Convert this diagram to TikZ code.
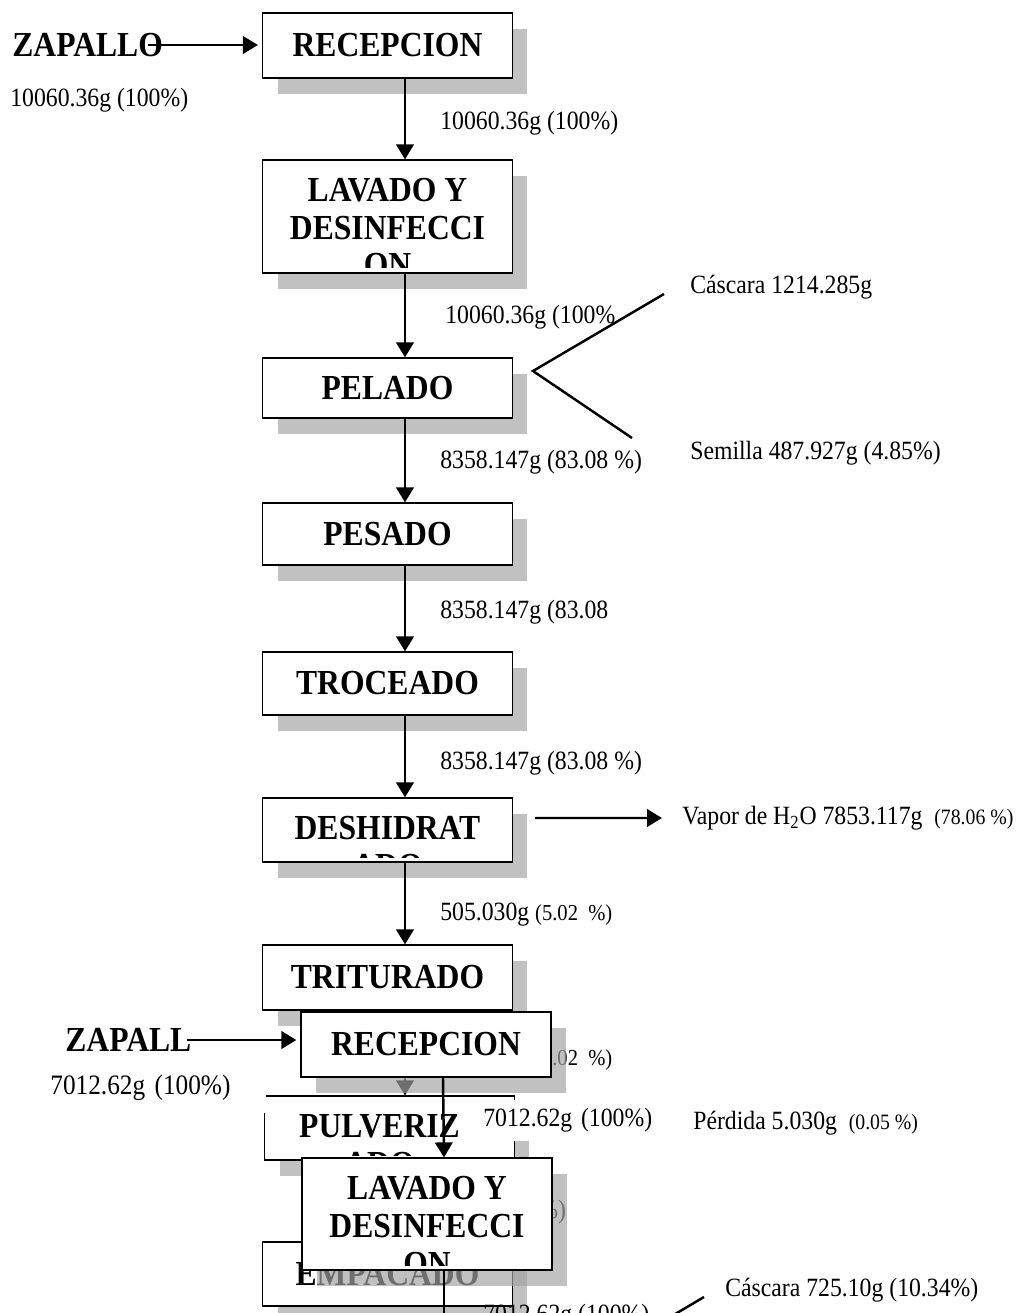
\documentclass[tikz,border=0pt]{standalone}
\usepackage{fontspec}
\setmainfont{Liberation Serif}[FakeStretch=0.9]
\usetikzlibrary{arrows.meta,shadows,calc}

\begin{document}
\begin{tikzpicture}[x=0.02cm, y=-0.02cm,
  paso/.style={draw, line width=0.7pt, fill=white, inner sep=0pt,
    minimum width=5cm, minimum height=1.28cm,
    font=\fontsize{20}{23}\selectfont\bfseries,
    drop shadow={shadow xshift=0.3cm, shadow yshift=-0.32cm, fill=black!36, opacity=0.68}},
  btxt/.style={anchor=base, inner sep=0pt, font=\fontsize{20}{23}\selectfont\bfseries},
  texto/.style n args={2}{path picture={
    \clip ([yshift=0.1cm]path picture bounding box.south west) rectangle (path picture bounding box.north east);
    \foreach \t [count=\k] in {#2} {
      \node[btxt] at ([xshift=#1, yshift={-0.82cm-(\k-1)*0.76cm}]path picture bounding box.north) {\t};
    }}},
  titulo/.style={anchor=west, inner sep=0pt, font=\fontsize{20}{23}\selectfont\bfseries},
  dato/.style={anchor=west, inner sep=0pt, font=\fontsize{15}{17}\selectfont},
  tapa/.style={dato, fill=white, align=left},
  flecha/.style={line width=1.4pt, -{Triangle[length=0.3cm, width=0.35cm]}},
  linea/.style={line width=1.4pt}
]
  \useasboundingbox (0,0) rectangle (1027,1313);
  \clip (0,0) rectangle (1027,1313);

  % primer diagrama
  \node[titulo] (zap1) at (12,45) {ZAPALLO};
  \node[paso, minimum height=1.3cm] (rec1) at (387.5,45.5) {RECEPCION};
  \node[dato] (d0) at (10,100) {10060.36g (100\%)};
  \node[paso, minimum height=2.26cm, texto={0cm}{LAVADO Y,DESINFECCI,ON}] (lav1) at (387.5,216.5) {};
  \node[paso, minimum height=1.2cm] (pel) at (387.5,388) {PELADO};
  \node[paso, minimum height=1.24cm] (pes) at (387.5,534) {PESADO};
  \node[paso, minimum height=1.26cm] (tro) at (387.5,683.5) {TROCEADO};
  \node[paso, texto={0cm}{DESHIDRAT,ADO}] (des) at (387.5,830) {};
  \node[paso, minimum height=1.3cm] (tri) at (387.5,977.5) {TRITURADO};
  \node[paso, texto={-0.2cm}{PULVERIZ,ADO}] (pul) at (389.5,1128) {};
  \node[paso] (emp) at (387.5,1274) {EMPACADO};

  \draw[flecha] ([xshift=-0.3cm]zap1.east) -- ($(zap1.east -| rec1.west)+(-4,0)$);
  \foreach \a/\b in {rec1/lav1, lav1/pel, pel/pes, pes/tro, tro/des, des/tri, tri/pul, pul/emp}
    \draw[flecha] ([xshift=0.35cm]\a.south) -- ([xshift=0.35cm]\a.south |- \b.north);

  \node[dato] (d1) at (440,123) {10060.36g (100\%)};
  \node[dato] (d2) at (445,317) {10060.36g (100\%};
  \node[dato] (d3) at (440,462) {8358.147g (83.08 \%)};
  \node[dato] (d4) at (440,612) {8358.147g (83.08};
  \node[dato] (d5) at (440,763) {8358.147g (83.08 \%)};
  \node[dato] (d6) at (440,915) {505.030g {\fontsize{13}{15}\selectfont(5.02\ \ \%)}};
  \node[dato] (d7) at (440,1060) {505.030g {\fontsize{13}{15}\selectfont(5.02\ \ \%)}};
  \node[dato] (d8) at (538,1212) {\%)};

  % cascara y semilla
  \coordinate (v1) at (533,371);
  \coordinate (c1) at (664,294);
  \coordinate (s1) at (632,438);
  \draw[linea] (c1) -- (v1) -- (s1);
  \node[dato] (cas1) at (690,287) {Cáscara 1214.285g};
  \node[dato] (sem1) at (690,453) {Semilla 487.927g (4.85\%)};

  % vapor
  \node[dato] (vap) at (682,818) {Vapor de H\textsubscript{2}O 7853.117g\ \ {\fontsize{12.5}{14}\selectfont(78.06 \%)}};
  \draw[flecha] ([shift={(0.44cm,0.24cm)}]des.east) -- ([xshift=-0.4cm]vap.west);

  % segundo diagrama
  \node[titulo] (zap2) at (65,1040) {ZAPALL};
  \node[paso, minimum height=1.3cm] (rec2) at (426,1044.5) {RECEPCION};
  \draw[flecha] ([xshift=-0.1cm]zap2.east) -- ($(zap2.east -| rec2.west)+(-4,0)$);
  \node[tapa, text width=4.2cm, minimum height=1cm, inner xsep=0.12cm, font=\fontsize{16}{18}\selectfont] (z2p) at (44,1088) {7012.62g (100\%)};
  \node[tapa, text width=3.8cm, minimum height=0.82cm, inner xsep=0.14cm] (r2p) at (476,1120) {7012.62g (100\%)};
  \node[dato] (per) at (693,1123) {Pérdida 5.030g\ \ {\fontsize{12.5}{14}\selectfont(0.05 \%)}};
  \node[paso, minimum height=2.24cm, texto={0cm}{LAVADO Y,DESINFECCI,ON}] (lav2) at (427,1214) {};
  \draw[flecha] ([xshift=0.34cm]rec2.south) -- ([xshift=0.34cm]lav2.north);
  \draw[flecha] ([xshift=0.34cm]lav2.south) -- ([xshift=0.34cm, yshift=-2cm]lav2.south);
  \node[dato] (d9) at (483,1316) {7012.62g (100\%)};

  \coordinate (v2) at (577,1372);
  \coordinate (c2) at (704,1297);
  \draw[linea] (c2) -- (v2);
  \node[dato] (cas2) at (725,1290) {Cáscara 725.10g (10.34\%)};
\end{tikzpicture}
\end{document}
